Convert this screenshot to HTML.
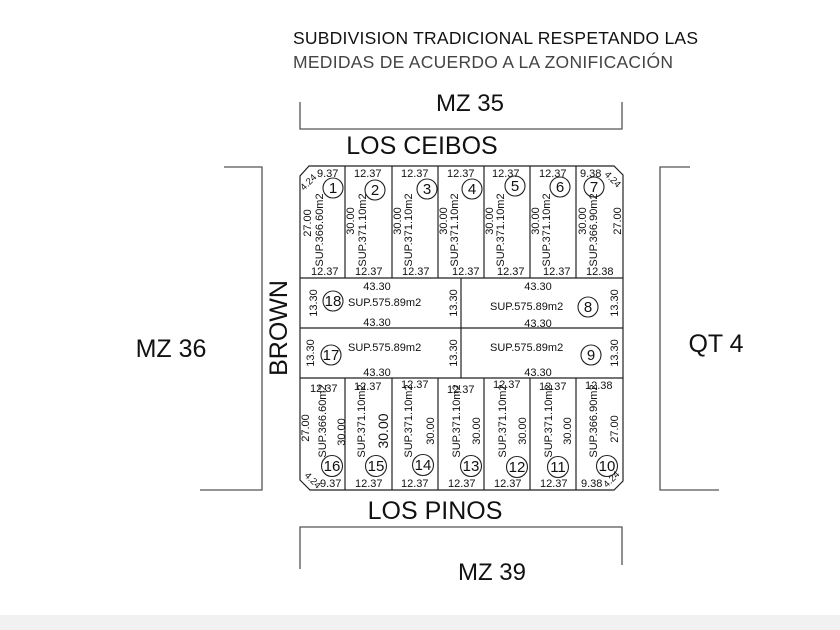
<!DOCTYPE html>
<html><head><meta charset="utf-8"><style>
html,body{margin:0;padding:0;background:#fff}
svg{display:block}
text{font-family:"Liberation Sans",Arial,sans-serif;fill:#111}
.s{font-size:11px}
.c{font-size:15px;text-anchor:middle}
</style></head><body>
<svg width="840" height="630" viewBox="0 0 840 630" xmlns="http://www.w3.org/2000/svg">
<rect x="0" y="615" width="840" height="15" fill="#f1f1f1"/>
<text x="293" y="44" font-size="17.5" textLength="405" fill="#222">SUBDIVISION TRADICIONAL RESPETANDO LAS</text>
<text x="293" y="68" font-size="17.5" textLength="380" style="fill:#444">MEDIDAS DE ACUERDO A LA ZONIFICACIÓN</text>
<g stroke="#555" stroke-width="1.3" fill="none">
<path d="M300 102 V129 H622 V102"/>
<path d="M224 167 H262 V490 H200"/>
<path d="M690 167 H660 V490 H719"/>
<path d="M300 569 V527 H622 V565"/>
</g>
<text x="470" y="111" font-size="24" text-anchor="middle">MZ 35</text>
<text x="422" y="154" font-size="25" text-anchor="middle">LOS CEIBOS</text>
<text x="435" y="519" font-size="25" text-anchor="middle">LOS PINOS</text>
<text x="492" y="580" font-size="24" text-anchor="middle">MZ 39</text>
<text x="171" y="357" font-size="25" text-anchor="middle">MZ 36</text>
<text x="716" y="352" font-size="25" text-anchor="middle">QT 4</text>
<text transform="translate(287 328) rotate(-90)" font-size="25" text-anchor="middle">BROWN</text>
<g stroke="#222" stroke-width="1.2" fill="none">
<path d="M309 166 H614 L623 175 V481 L614 490 H310 L300 480 V176 Z"/>
<path d="M345 166V278M392 166V278M438 166V278M484 166V278M530 166V278M576 166V278"/>
<path d="M345 378V490M392 378V490M438 378V490M484 378V490M530 378V490M576 378V490"/>
<path d="M300 278H623M300 328H623M300 378H623M461 278V378"/>
</g>
<g stroke="#222" stroke-width="1.1" fill="none">
<circle cx="333" cy="188" r="10"/><circle cx="375" cy="190" r="10"/><circle cx="427" cy="189" r="10"/>
<circle cx="472" cy="189" r="10"/><circle cx="515" cy="186" r="10"/><circle cx="560" cy="187" r="10"/>
<circle cx="594" cy="187" r="10"/>
<circle cx="333" cy="301" r="10"/><circle cx="588" cy="307" r="10"/>
<circle cx="331" cy="355" r="10"/><circle cx="591" cy="355" r="10"/>
<circle cx="332" cy="466" r="10.5"/><circle cx="376" cy="466" r="10.5"/><circle cx="423" cy="465" r="10.5"/>
<circle cx="471" cy="466" r="10.5"/><circle cx="517" cy="467" r="10.5"/><circle cx="558" cy="467" r="10.5"/>
<circle cx="607" cy="466" r="10.5"/>
</g>
<g class="c">
<text x="333" y="193">1</text><text x="375" y="195">2</text><text x="427" y="194">3</text>
<text x="472" y="194">4</text><text x="515" y="191">5</text><text x="560" y="192">6</text>
<text x="594" y="192">7</text>
<text x="333" y="306">18</text><text x="588" y="312">8</text>
<text x="331" y="360">17</text><text x="591" y="360">9</text>
<text x="332" y="471">16</text><text x="376" y="471">15</text><text x="423" y="470">14</text>
<text x="471" y="471">13</text><text x="517" y="472">12</text><text x="558" y="472">11</text>
<text x="607" y="471">10</text>
</g>
<g class="s">
<text x="317" y="177">9.37</text>
<text transform="translate(304 191) rotate(-45)" font-size="9.5">4.24</text>
<text x="354" y="177">12.37</text><text x="401" y="177">12.37</text><text x="447" y="177">12.37</text>
<text x="492" y="177">12.37</text><text x="539" y="177">12.37</text>
<text x="580" y="177">9.38</text>
<text transform="translate(604 175) rotate(45)" font-size="9.5">4.24</text>
<text x="311" y="275">12.37</text><text x="355" y="275">12.37</text><text x="402" y="275">12.37</text>
<text x="452" y="275">12.37</text><text x="497" y="275">12.37</text><text x="543" y="275">12.37</text>
<text x="586" y="275">12.38</text>
<g text-anchor="middle">
<text transform="translate(311 223) rotate(-90)">27.00</text>
<text transform="translate(323 230) rotate(-90)">SUP.366.60m2</text>
<text transform="translate(354 221) rotate(-90)">30.00</text>
<text transform="translate(366 230) rotate(-90)">SUP.371.10m2</text>
<text transform="translate(401 221) rotate(-90)">30.00</text>
<text transform="translate(412 230) rotate(-90)">SUP.371.10m2</text>
<text transform="translate(447 221) rotate(-90)">30.00</text>
<text transform="translate(458 230) rotate(-90)">SUP.371.10m2</text>
<text transform="translate(493 221) rotate(-90)">30.00</text>
<text transform="translate(504 230) rotate(-90)">SUP.371.10m2</text>
<text transform="translate(539 221) rotate(-90)">30.00</text>
<text transform="translate(550 230) rotate(-90)">SUP.371.10m2</text>
<text transform="translate(586 221) rotate(-90)">30.00</text>
<text transform="translate(597 230) rotate(-90)">SUP.366.90m2</text>
<text transform="translate(621 221) rotate(-90)">27.00</text>
<text x="377" y="290">43.30</text><text x="377" y="326">43.30</text>
<text x="538" y="290">43.30</text><text x="538" y="327">43.30</text>
<text x="377" y="376">43.30</text><text x="538" y="376">43.30</text>
<text transform="translate(317 303) rotate(-90)">13.30</text>
<text transform="translate(457 303) rotate(-90)">13.30</text>
<text transform="translate(618 303) rotate(-90)">13.30</text>
<text transform="translate(314 353) rotate(-90)">13.30</text>
<text transform="translate(457 353) rotate(-90)">13.30</text>
<text transform="translate(618 353) rotate(-90)">13.30</text>
<text transform="translate(309 428) rotate(-90)">27.00</text>
<text transform="translate(326 421) rotate(-90)">SUP.366.60m2</text>
<text transform="translate(345 432) rotate(-90)">30.00</text>
<text transform="translate(365 421) rotate(-90)">SUP.371.10m2</text>
<text transform="translate(388 431) rotate(-90)" font-size="14">30.00</text>
<text transform="translate(412 421) rotate(-90)">SUP.371.10m2</text>
<text transform="translate(434 431) rotate(-90)">30.00</text>
<text transform="translate(460 421) rotate(-90)">SUP.371.10m2</text>
<text transform="translate(480 431) rotate(-90)">30.00</text>
<text transform="translate(506 421) rotate(-90)">SUP.371.10m2</text>
<text transform="translate(526 431) rotate(-90)">30.00</text>
<text transform="translate(552 421) rotate(-90)">SUP.371.10m2</text>
<text transform="translate(571 431) rotate(-90)">30.00</text>
<text transform="translate(597 421) rotate(-90)">SUP.366.90m2</text>
<text transform="translate(618 429) rotate(-90)">27.00</text>
</g>
<text x="310" y="392">12.37</text><text x="354" y="390">12.37</text><text x="401" y="388">12.37</text>
<text x="447" y="393">12.37</text><text x="493" y="388">12.37</text><text x="539" y="390">12.37</text>
<text x="585" y="389">12.38</text>
<text x="320" y="487">9.37</text>
<text transform="translate(304 476) rotate(45)" font-size="9.5">4.24</text>
<text x="355" y="487">12.37</text><text x="401" y="487">12.37</text><text x="448" y="487">12.37</text>
<text x="494" y="487">12.37</text><text x="540" y="487">12.37</text>
<text x="581" y="487">9.38</text>
<text transform="translate(607 488) rotate(-45)" font-size="9.5">4.24</text>
<text x="490" y="310">SUP.575.89m2</text>
<text x="348" y="306">SUP.575.89m2</text>
<text x="348" y="351">SUP.575.89m2</text>
<text x="490" y="351">SUP.575.89m2</text>
</g>
</svg>
</body></html>
